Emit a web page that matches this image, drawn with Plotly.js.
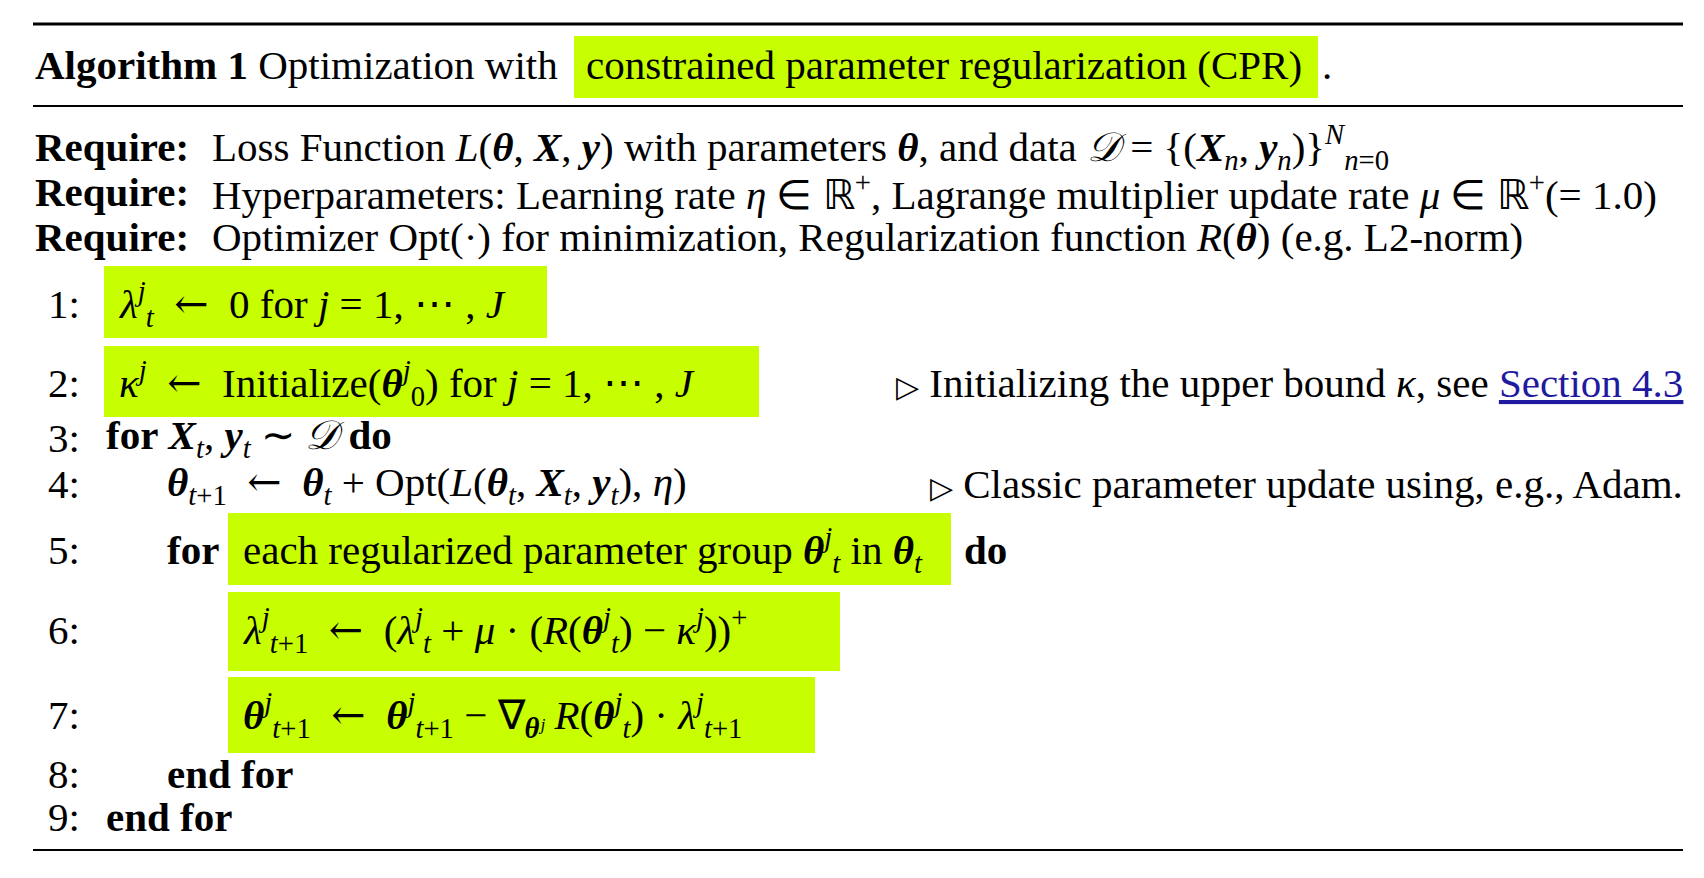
<!DOCTYPE html>
<html>
<head>
<meta charset="utf-8">
<script src="https://cdn.plot.ly/plotly-3.0.1.min.js"></script>
<style>
  body { margin: 0; background: #fff; }
</style>
</head>
<body>
<div id="plot" style="width:1704px;height:878px"></div>
<script>
// symbols
var TH = '<b><i>θ</i></b>';
var XB = '<b><i>X</i></b>';
var YB = '<b><i>y</i></b>';
var DD = '<i>𝒟</i>';
var ARR = '\u2002<span style="font-family:DejaVu Serif">←</span>\u2002';
var TRI = '<span style="font-size:30px">▷</span> ';
var SP = '\u2005';

// caption
var captionHead = '<b>Algorithm 1</b> Optimization with';
var captionMark = 'constrained parameter regularization (CPR)';
var captionTail = '.';

// require block
var requireLabel = '<b>Require:</b>';
var requireText = [
    'Loss Function <i>L</i>(' + TH + ', ' + XB + ', ' + YB + ') with parameters ' + TH + ', and data ' + DD +
        ' = {(' + XB + '<sub><i>n</i></sub>, ' + YB + '<sub><i>n</i></sub>)}<sup><i>N</i></sup><sub><i>n</i>=0</sub>',
    'Hyperparameters: Learning rate <i>η</i> ∈ ℝ<sup>+</sup>, Lagrange multiplier update rate <i>μ</i> ∈ ℝ<sup>+</sup>(= 1.0)',
    'Optimizer Opt(·) for minimization, Regularization function <i>R</i>(' + TH + ') (e.g. L2-norm)'
];

// algorithm steps
var stepNums = ['1:', '2:', '3:', '4:', '5:', '6:', '7:', '8:', '9:'];
var stepLead = ['', '', '', '', '<b>for</b>', '', '', '', ''];
var stepCode = [
    '<i>λ</i><sup><i>j</i></sup><sub><i>t</i></sub>' + ARR + '0 for <i>j</i> = 1, ⋯ , <i>J</i>',
    '<i>κ</i><sup><i>j</i></sup>' + ARR + 'Initialize(' + TH + '<sup><i>j</i></sup><sub>0</sub>) for <i>j</i> = 1, ⋯ , <i>J</i>',
    '<b>for</b> ' + XB + '<sub><i>t</i></sub>, ' + YB + '<sub><i>t</i></sub> ∼ ' + DD + SP + '<b>do</b>',
    TH + '<sub><i>t</i>+1</sub>' + ARR + TH + '<sub><i>t</i></sub> + Opt(<i>L</i>(' + TH + '<sub><i>t</i></sub>, ' + XB +
        '<sub><i>t</i></sub>, ' + YB + '<sub><i>t</i></sub>), <i>η</i>)',
    'each regularized parameter group ' + TH + '<sup><i>j</i></sup><sub><i>t</i></sub> in ' + TH + '<sub><i>t</i></sub>',
    '<i>λ</i><sup><i>j</i></sup><sub><i>t</i>+1</sub>' + ARR + '(<i>λ</i><sup><i>j</i></sup><sub><i>t</i></sub> + <i>μ</i> · (<i>R</i>(' + TH +
        '<sup><i>j</i></sup><sub><i>t</i></sub>) − <i>κ</i><sup><i>j</i></sup>))<sup>+</sup>',
    TH + '<sup><i>j</i></sup><sub><i>t</i>+1</sub>' + ARR + TH + '<sup><i>j</i></sup><sub><i>t</i>+1</sub> − ∇<sub>' + TH +
        '<i>ʲ</i></sub>' + SP + '<i>R</i>(' + TH + '<sup><i>j</i></sup><sub><i>t</i></sub>) · <i>λ</i><sup><i>j</i></sup><sub><i>t</i>+1</sub>',
    '<b>end for</b>',
    '<b>end for</b>'
];
var stepTail = ['', '', '', '', '<b>do</b>', '', '', '', ''];
var stepNote = [
    '',
    TRI + 'Initializing the upper bound <i>κ</i>, see <span style="color:#1f1aa0;text-decoration:underline">Section 4.3</span>',
    '',
    TRI + 'Classic parameter update using, e.g., Adam.',
    '', '', '', '', ''
];

// placement (pixels)
var FONT = 'Liberation Serif, Times New Roman, serif';
var FS = 41;
var requireY = [147, 192, 237];
var stepY = [304, 383, 438, 484, 550, 630, 715, 774, 817];
var stepX = [117, 117, 104, 165, 241, 241, 241, 165, 104];
var tailX = [0, 0, 0, 0, 962, 0, 0, 0, 0];
var boxes = [
    [574, 1318, 36, 98],
    [104, 547, 266, 338],
    [104, 759, 346, 417],
    [228, 951, 513, 585],
    [228, 840, 592, 671],
    [228, 815, 677, 753]
];

var annotations = [];
var shapes = [];

function txt(x, y, s, anchor) {
    annotations.push({
        x: x, y: y, xref: 'x', yref: 'y', text: s, showarrow: false,
        xanchor: anchor || 'left', yanchor: 'middle',
        font: {family: FONT, size: FS, color: '#000'}
    });
}

function hline(y, w) {
    shapes.push({type: 'line', xref: 'x', yref: 'y', x0: 33, x1: 1683, y0: y, y1: y,
        line: {color: '#000', width: w}});
}

boxes.forEach(function (b) {
    shapes.push({type: 'rect', xref: 'x', yref: 'y', x0: b[0], x1: b[1], y0: b[2], y1: b[3],
        fillcolor: '#c8ff00', line: {width: 0}, layer: 'below'});
});
hline(24, 3);
hline(106, 2);
hline(850, 2);

txt(33, 65, captionHead);
txt(584, 65, captionMark);
txt(1320, 65, captionTail);

for (var i = 0; i < requireText.length; i++) {
    txt(33, requireY[i], requireLabel);
    txt(210, requireY[i], requireText[i]);
}

for (var k = 0; k < stepNums.length; k++) {
    txt(82, stepY[k], stepNums[k], 'right');
    if (stepLead[k]) txt(165, stepY[k], stepLead[k]);
    txt(stepX[k], stepY[k], stepCode[k]);
    if (stepTail[k]) txt(tailX[k], stepY[k], stepTail[k]);
    if (stepNote[k]) txt(1685, stepY[k], stepNote[k], 'right');
}

var layout = {
    width: 1704,
    height: 878,
    margin: {l: 0, r: 0, t: 0, b: 0},
    paper_bgcolor: '#fff',
    plot_bgcolor: '#fff',
    showlegend: false,
    xaxis: {range: [0, 1704], visible: false, fixedrange: true},
    yaxis: {range: [878, 0], visible: false, fixedrange: true},
    annotations: annotations,
    shapes: shapes
};

Plotly.newPlot('plot', [{x: [], y: [], type: 'scatter', mode: 'markers', hoverinfo: 'skip'}], layout,
    {displayModeBar: false, staticPlot: true});
</script>
</body>
</html>
